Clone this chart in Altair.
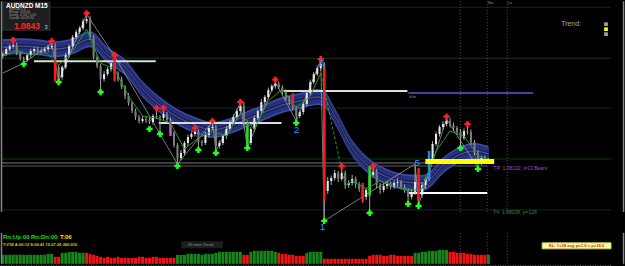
import altair as alt
import pandas as pd

# ---------------- data (prices in points = price * 1e5) ----------------
close_pts = [108858,108878,108890,108894,108862,108842,108834,108854,108870,108878,
             108866,108870,108878,108886,108890,108806,108766,108806,108854,108890,
             108926,108946,108962,108990,108998,108926,108846,108810,108758,108778,
             108798,108822,108782,108758,108726,108690,108662,108630,108606,108590,
             108598,108594,108586,108610,108606,108602,108618,108594,108542,108494,
             108442,108462,108502,108526,108538,108546,108506,108502,108534,108562,
             108566,108490,108502,108530,108558,108586,108606,108630,108650,108582,
             108502,108558,108602,108630,108666,108686,108714,108730,108738,108726,
             108706,108682,108666,108642,108610,108626,108658,108702,108746,108778,
             108802,108818,108310,108350,108362,108382,108358,108382,108334,108342,
             108358,108338,108318,108286,108314,108374,108386,108334,108314,108330,
             108338,108326,108342,108346,108326,108314,108286,108306,108346,108294,
             108334,108358,108430,108498,108538,108566,108578,108590,108574,108562,
             108546,108522,108550,108546,108506,108462,108426,108442,108430,108434]
upper_wick = [10,8,8,8,10,8,6,8,10,8, 8,10,8,8,8,12,8,8,10,8, 8,10,8,10,16,12,8,10,8,12,
              8,10,24,8,10,8,12,8,10,8, 12,8,10,8,20,8,12,8,10,8, 8,12,8,10,8,8,10,8,12,8,
              16,8,10,8,12,8,10,8,8,16, 10,8,10,8,12,8,10,8,8,10, 8,12,8,10,8,8,12,8,10,8,
              10,12,8,16,10,12,8,20,10,12, 16,10,8,12,10,8,16,12,8,10, 12,8,10,16,8,10,8,12,64,10,
              12,8,10,12,10,8,12,8,12,10, 8,12,10,20,10,8,12,8,10,8]
lower_wick = [10,8,8,10,8,10,8,8,10,8, 10,8,8,10,8,12,12,10,8,8, 10,8,8,8,10,12,10,8,40,10,
              8,10,12,10,8,12,10,8,12,10, 8,12,8,10,8,52,10,8,12,10, 20,10,8,12,8,10,24,12,8,10,
              8,20,10,8,12,8,10,8,8,12, 12,8,10,8,8,10,8,8,10,8, 10,8,12,10,16,8,10,8,12,8,
              8,10,108,12,16,10,12,8,16,12, 10,16,12,24,12,84,10,12,16,10, 12,10,8,16,10,12,20,10,12,36,
              12,16,10,12,8,10,12,8,10,12, 10,32,8,10,12,10,20,12,10,8]
FIRST_OPEN = 108850

band_bar = [0,5,10,15,20,25,30,35,40,45,50,55,60,65,70,75,80,85,90,92,95,100,105,110,115,120,123,125,130,135,139]
band_mid = [108886,108890,108886,108878,108890,108918,108854,108806,108718,108654,
            108606,108574,108554,108570,108598,108626,108654,108670,108686,108678,
            108610,108482,108406,108366,108346,108342,108366,108398,108450,108470,108458]

fast_bar = [0,4,8,12,16,20,24,28,32,36,40,44,48,52,56,60,64,68,72,76,80,84,88,91,98,100,104,108,112,116,120,124,128,132,136,139]
fast_pts = [108850,108874,108854,108870,108814,108870,108958,108822,108798,108690,
            108610,108602,108582,108478,108522,108550,108530,108622,108558,108670,
            108718,108642,108690,108782,108330,108350,108318,108350,108330,108310,
            108318,108470,108550,108530,108450,108438]

zz_bar = [0,6,14,16,24,32,50,60,61,68,70,78,84,91,92,118,119,127,136]
zz_pts = [108782,108822,108902,108750,109018,108850,108418,108586,108470,108662,
          108486,108746,108590,108834,108190,108418,108254,108598,108402]

sig_bar = [15,32,48,70,83,92,103,105,119,122]
sig_top = [108838,108850,108582,108570,108702,108798,108342,108410,108402,108470]
sig_bot = [108750,108750,108530,108478,108650,108270,108270,108290,108270,108358]
sig_col = ['#ff1a1a','#ff1a1a','#e040e0','#22dd22','#ff1a1a','#ff1a1a','#ff1a1a','#22dd22','#ff1a1a','#2a86ff']

rc_bar = [3,14,24,32,44,46,55,60,68,78,91,97,106,127,133]
rc_pts = [108914,108910,109022,108854,108642,108642,108562,108590,108666,108756,108838,108410,108410,108608,108578]
gc_bar = [6,16,28,42,45,50,56,61,70,84,92,105,116,119,131,136]
gc_pts = [108818,108746,108706,108558,108538,108410,108474,108462,108482,108582,108190,108222,108258,108250,108482,108398]

wave_text = ["3", "2", "1", "5"]
wave_x = [91.7, 84.6, 92.0, 119.1]
wave_pts = [108822, 108554, 108166, 108422]

lvl_x0 = [9.43, 45.14, 80.86, 116.57, 116.57]
lvl_x1 = [44.29, 80.29, 116.29, 152.29, 139.14]
lvl_pts = [108830, 108582, 108710, 108702, 108302]
lvl_col = ['#dcdcdc', '#dcdcdc', '#dcdcdc', '#5a5ad8', '#ffffff']

grid_pts = [109046, 108842, 108642, 108438, 108234]
grid_col = ['#1a2236', '#0d3d0d', '#1a2236', '#0d3d0d', '#1a2236']
gray_pts = [108422, 108410]

yellow_x = [121.43, 141.14]
yellow_pts = [108438, 108418]

hist_vals = ([9]*13 + [10, 10] + [-7, -7] + [11, 11, 12, 12, 12, 11, 11] + [-11, -10, -9, -8, -7]
             + [-6, -7, -6, -6, -7, -6, -6, -6, -6, -6, -7, -7, -6, -6, -7, -7, -6, -6, -6, -6, -6]
             + [9, 9, 9, 10, 10, 10, 10, 9, 10, 10, 10, 11, 12, 12, 12, 12, 12, 12, 12]
             + [-9, -9] + [12, 13, 13, 13, 13, 13, 13, 12] + [-11, -10, -10, -9, -9, -8, -8, -8]
             + [11, 12, 12, 12, 12] + [-5]*13
             + [-8, -9, -9, -9, -8, -8, -9, -9, -8, -8, -8, -8, -8]
             + [11, 11, 12, 12, 13, 13, 13, 14, 14, 14]
             + [-12, -12, -11, -11, -11, -10, -10, -9, -9, -9, -9] + [9])

osc_red = [59,76,82,35,47,65,59,53,71,82,29,24,71,59,53,59,82,65,24,41,59,76,88,82,76,29,6,6,12,53,
           47,18,35,65,76,65,41,24,65,65,47,18,35,65,82,82,29,12,18,18,29,47,35,35,47,59,24,47,65,35,
           53,59,71,82,65,29,41,53,18,18]
osc_teal = [65,70,76,47,41,59,62,50,65,76,41,29,59,65,50,56,76,71,35,35,53,71,82,85,79,41,12,6,12,41,
            50,24,29,59,71,71,47,29,53,65,53,24,29,59,76,85,41,18,18,18,24,41,41,35,41,53,29,41,59,41,
            47,56,65,76,71,35,41,50,24,18]
osc_levels = [100, 70, 20]

strip_bar = [0,15,30,45,60,75,85,92,100,108,115,125,139]
strip_val = [55,60,45,25,10,0,45,95,60,10,0,15,20]

# ---------------- helpers ----------------
FONT = "Liberation Sans"
XMAX = 625 / 3.5
GRID_END = 174.57
xs = alt.Scale(domain=[0, XMAX], nice=False, zero=False)
ys = alt.Scale(domain=[1.08226, 1.09070], nice=False, zero=False)


def X(f):
    return alt.X(f, type="quantitative", scale=xs, axis=None)


def Y(f, scale=ys):
    return alt.Y(f, type="quantitative", scale=scale, axis=None)


P = lambda v: v / 1e5

# candles
rows = []
prev = FIRST_OPEN
for i, c in enumerate(close_pts):
    o = prev
    hi = max(o, c) + upper_wick[i]
    lo = min(o, c) - lower_wick[i]
    cc = c if c != o else c + 2
    rows.append(dict(xc=i + 0.5, x0=i + 0.2, x1=i + 0.8, o=P(o), c=P(cc), h=P(hi), l=P(lo), up=bool(c >= o)))
    prev = c
candles = pd.DataFrame(rows)

BAND_OUT, BAND_IN, BAND_CORE = 32, 25, 6
band = pd.DataFrame({
    "x": [b + 0.5 for b in band_bar],
    "o_hi": [P(m + BAND_OUT) for m in band_mid], "o_lo": [P(m - BAND_OUT) for m in band_mid],
    "i_hi": [P(m + BAND_IN) for m in band_mid], "i_lo": [P(m - BAND_IN) for m in band_mid],
    "c_hi": [P(m + BAND_CORE) for m in band_mid], "c_lo": [P(m - BAND_CORE) for m in band_mid],
    "mid": [P(m) for m in band_mid],
})

frows = []
for b, v in zip(fast_bar, fast_pts):
    if b <= 91:
        frows.append(dict(x=b + 0.5, y=P(v), seg="a"))
    if 91 <= b <= 98:
        frows.append(dict(x=b + 0.5, y=P(v), seg="b"))
    if b >= 98:
        frows.append(dict(x=b + 0.5, y=P(v), seg="c"))
fast = pd.DataFrame(frows)

zz = pd.DataFrame({"x": [b + 0.5 for b in zz_bar], "y": [P(v) for v in zz_pts]})
sig = pd.DataFrame({"x0": [b + 0.15 for b in sig_bar], "x1": [b + 0.85 for b in sig_bar],
                    "t": [P(v) for v in sig_top], "b": [P(v) for v in sig_bot], "col": sig_col})
rc = pd.DataFrame({"x": [b + 0.5 for b in rc_bar], "y": [P(v) for v in rc_pts]})
gc = pd.DataFrame({"x": [b + 0.5 for b in gc_bar], "y": [P(v) for v in gc_pts]})
waves = pd.DataFrame({"x": wave_x, "y": [P(v) for v in wave_pts], "t": wave_text})
lv = pd.DataFrame({"x0": lvl_x0, "x1": lvl_x1, "y": [P(v) for v in lvl_pts], "col": lvl_col,
                   "w": [2, 2, 2, 1.5, 2]})
grid = pd.DataFrame({"x0": [0] * 5, "x1": [GRID_END] * 5, "y": [P(v) for v in grid_pts], "col": grid_col})
grays = pd.DataFrame({"x0": [0, 0], "x1": [139.14, 139.14], "y": [P(v) for v in gray_pts],
                      "col": ["#7a7a7a", "#5c5c5c"]})
yellow = pd.DataFrame({"x0": [yellow_x[0]], "x1": [yellow_x[1]], "t": [P(yellow_pts[0])], "b": [P(yellow_pts[1])]})
vlines = pd.DataFrame({"x": [131.43, 139.14, 144.86]})
borders = pd.DataFrame({"x": [0.15, 178.15]})
infobox = pd.DataFrame({"x0": [0.57], "x1": [14.0], "t": [P(109066)], "b": [P(108954)]})
trend_dots = pd.DataFrame({"x": [173.14] * 3, "y": [P(108978), P(108958), P(108938)],
                           "col": ["#a0a0a0", "#ffff00", "#a0a0a0"]})

main_texts = pd.DataFrame([
    dict(x=1.43, y=P(109052), t="AUDNZD   M15", col="#ffffff", fs=6.5, bold=True),
    dict(x=2.3, y=P(109037), t="Spread        2.6", col="#9a9a9a", fs=3.4, bold=False),
    dict(x=2.3, y=P(109025), t="Range        159.40", col="#9a9a9a", fs=3.4, bold=False),
    dict(x=2.3, y=P(109013), t="Swing     -0.18 / 1.05", col="#9a9a9a", fs=3.4, bold=False),
    dict(x=2.3, y=P(109001), t="Candle     00:09:34", col="#9a9a9a", fs=3.4, bold=False),
    dict(x=3.71, y=P(108972), t="1.0843", col="#ff2424", fs=8.5, bold=True),
    dict(x=12.5, y=P(108968), t="3", col="#d8d8d8", fs=5, bold=False),
    dict(x=160.3, y=P(108978), t="Trend:", col="#a8a8a8", fs=7, bold=False),
    dict(x=139.4, y=P(109062), t="Nw", col="#a0a040", fs=3.5, bold=False),
    dict(x=145.1, y=P(109062), t="Lo", col="#a0a040", fs=3.5, bold=False),
    dict(x=116.9, y=P(108686), t="b1m", col="#8888cc", fs=3.5, bold=False),
    dict(x=140.9, y=P(108402), t="TP: 1.08132, l=13 Bears", col="#b040d0", fs=5, bold=False),
    dict(x=140.9, y=P(108224), t="Th: 1.08038, p=128", col="#2a902a", fs=5, bold=False),
])


def text_layer(df, yscale, bold):
    return alt.Chart(df[df["bold"] == bold]).mark_text(
        align="left", baseline="middle", font=FONT, fontWeight="bold" if bold else "normal"
    ).encode(x=X("x"), y=Y("y", yscale), text="t:N",
             color=alt.Color("col:N", scale=None), size=alt.Size("fs:Q", scale=None))


layers = [
    alt.Chart(grid).mark_rule(strokeWidth=1).encode(x=X("x0"), x2="x1", y=Y("y"), color=alt.Color("col:N", scale=None)),
    alt.Chart(grays).mark_rule(strokeWidth=1).encode(x=X("x0"), x2="x1", y=Y("y"), color=alt.Color("col:N", scale=None)),
    alt.Chart(vlines).mark_rule(strokeWidth=1, strokeDash=[1, 2], color="#555555").encode(x=X("x")),
    alt.Chart(band).mark_area(interpolate="monotone", color="#3d49a3").encode(x=X("x"), y=Y("o_lo"), y2="o_hi"),
    alt.Chart(band).mark_area(interpolate="monotone", color="#27307c").encode(x=X("x"), y=Y("i_lo"), y2="i_hi"),
    alt.Chart(band).mark_line(interpolate="monotone", color="#151a44", strokeWidth=1).encode(x=X("x"), y=Y("c_hi")),
    alt.Chart(band).mark_line(interpolate="monotone", color="#151a44", strokeWidth=1).encode(x=X("x"), y=Y("c_lo")),
    alt.Chart(band).mark_line(interpolate="monotone", color="#6a6a8e", strokeWidth=0.6).encode(x=X("x"), y=Y("mid")),
    alt.Chart(zz).mark_line(color="#9a9a9a", strokeWidth=0.8).encode(x=X("x"), y=Y("y")),
    alt.Chart(lv).mark_rule().encode(x=X("x0"), x2="x1", y=Y("y"), color=alt.Color("col:N", scale=None),
                                     strokeWidth=alt.StrokeWidth("w:Q", scale=None)),
    alt.Chart(candles).mark_rule(color="#a8a8a8", strokeWidth=1).encode(x=X("xc"), y=Y("l"), y2="h"),
    alt.Chart(candles).mark_rect().encode(
        x=X("x0"), x2="x1", y=Y("o"), y2="c",
        color=alt.condition("datum.up", alt.value("#e6e6e6"), alt.value("#7c7c7c"))),
    alt.Chart(sig).mark_rect().encode(x=X("x0"), x2="x1", y=Y("b"), y2="t", color=alt.Color("col:N", scale=None)),
    alt.Chart(fast[fast.seg != "b"]).mark_line(color="#1ca01c", strokeWidth=1).encode(x=X("x"), y=Y("y"), detail="seg:N"),
    alt.Chart(fast[fast.seg == "b"]).mark_line(color="#1ca01c", strokeWidth=1, strokeDash=[3, 2]).encode(x=X("x"), y=Y("y")),
    alt.Chart(yellow).mark_rect(color="#ffff00").encode(x=X("x0"), x2="x1", y=Y("b"), y2="t"),
    alt.Chart(rc).mark_point(shape="cross", filled=True, size=38, color="#ff2020", opacity=1).encode(x=X("x"), y=Y("y")),
    alt.Chart(gc).mark_point(shape="cross", filled=True, size=38, color="#22ff22", opacity=1).encode(x=X("x"), y=Y("y")),
    alt.Chart(waves).mark_text(font=FONT, fontSize=10, color="#3a8cff", align="center", baseline="middle").encode(
        x=X("x"), y=Y("y"), text="t:N"),
    alt.Chart(infobox).mark_rect(color="#1f1f1f", stroke="#333333").encode(x=X("x0"), x2="x1", y=Y("b"), y2="t"),
    text_layer(main_texts, ys, True),
    text_layer(main_texts, ys, False),
    alt.Chart(trend_dots).mark_point(shape="square", filled=True, size=14, opacity=1).encode(
        x=X("x"), y=Y("y"), color=alt.Color("col:N", scale=None)),
    alt.Chart(borders).mark_rule(color="#858585", strokeWidth=1.5).encode(x=X("x")),
]
main = alt.layer(*layers).properties(width=625, height=211)

# ---------------- histogram sub-window ----------------
hs = alt.Scale(domain=[0, 31], nice=False, zero=False)
hist = pd.DataFrame({"x0": [i + 0.08 for i in range(len(hist_vals))],
                     "x1": [i + 0.92 for i in range(len(hist_vals))],
                     "z": [0] * len(hist_vals),
                     "v": [abs(v) for v in hist_vals],
                     "col": ["#17861a" if v > 0 else "#ee1414" for v in hist_vals]})
hist_texts = pd.DataFrame([
    dict(x=0.57, y=27, t="Rn:Up:00", col="#22dd22", fs=6, bold=True),
    dict(x=8.57, y=27, t="Rn:Dn:00", col="#22dd22", fs=6, bold=True),
    dict(x=16.86, y=27, t="T:06", col="#e8e800", fs=6, bold=True),
    dict(x=0.57, y=18.5, t="T:V1E  A:00:12  S:00:41  15:07:26  200:010", col="#d8d800", fs=4, bold=True),
    dict(x=53.5, y=19, t="30 mins Trend", col="#909090", fs=4, bold=False),
])
boxes = pd.DataFrame({"x0": [51.7, 154.86], "x1": [63.4, 174.57], "b": [16, 15], "t": [22, 21],
                      "col": ["#1e1e1e", "#ffffa0"], "st": ["#1e1e1e", "#c8c870"]})
kl = pd.DataFrame({"x": [164.7], "y": [18], "t": ["KL: 1s18 avg p=1.0 s p=18.0"]})

hist_chart = alt.layer(
    alt.Chart(vlines).mark_rule(strokeWidth=1, strokeDash=[1, 2], color="#555555").encode(x=X("x")),
    alt.Chart(hist).mark_rect().encode(x=X("x0"), x2="x1", y=Y("z", hs), y2="v", color=alt.Color("col:N", scale=None)),
    alt.Chart(boxes).mark_rect().encode(x=X("x0"), x2="x1", y=Y("b", hs), y2="t",
                                        color=alt.Color("col:N", scale=None), stroke=alt.Stroke("st:N", scale=None)),
    text_layer(hist_texts, hs, True),
    text_layer(hist_texts, hs, False),
    alt.Chart(kl).mark_text(font=FONT, fontSize=4.2, color="#e02020", fontWeight="bold").encode(
        x=X("x"), y=Y("y", hs), text="t:N"),
    alt.Chart(borders).mark_rule(color="#858585", strokeWidth=1.5).encode(x=X("x")),
).properties(width=625, height=31)

# ---------------- oscillator sub-window ----------------
os_ = alt.Scale(domain=[0, 100], nice=False, zero=False)
osc = pd.DataFrame({"x": [2 * k + 0.5 for k in range(len(osc_red))], "r": osc_red, "tl": osc_teal})
olev = pd.DataFrame({"x0": [0] * 3, "x1": [GRID_END] * 3, "y": osc_levels})
osc_chart = alt.layer(
    alt.Chart(olev).mark_rule(color="#7a7a7a", strokeWidth=1, strokeDash=[1, 1.5]).encode(x=X("x0"), x2="x1", y=Y("y", os_)),
    alt.Chart(osc).mark_line(color="#1e8e8e", strokeWidth=1).encode(x=X("x"), y=Y("tl", os_)),
    alt.Chart(osc).mark_line(color="#c42222", strokeWidth=1).encode(x=X("x"), y=Y("r", os_)),
    alt.Chart(borders).mark_rule(color="#858585", strokeWidth=1.5).encode(x=X("x")),
).properties(width=625, height=17)

# ---------------- bottom strip ----------------
ss = alt.Scale(domain=[0, 100], nice=False, zero=False)
strip = pd.DataFrame({"x0": [i + 0.1 for i in range(len(close_pts))],
                      "x1": [i + 0.9 for i in range(len(close_pts))],
                      "z": [0] * len(close_pts), "t": [100] * len(close_pts),
                      "up": candles["up"].tolist()})
scurve = pd.DataFrame({"x": [b + 0.5 for b in strip_bar], "y": strip_val})
strip_chart = alt.layer(
    alt.Chart(strip).mark_rect().encode(
        x=X("x0"), x2="x1", y=Y("z", ss), y2="t",
        color=alt.condition("datum.up", alt.value("#e2e2e2"), alt.value("#8e8e8e"))),
    alt.Chart(scurve).mark_line(color="#e02020", strokeWidth=1, interpolate="monotone").encode(x=X("x"), y=Y("y", ss)),
    alt.Chart(borders).mark_rule(color="#858585", strokeWidth=1.5).encode(x=X("x")),
).properties(width=625, height=7)

chart = alt.vconcat(main, hist_chart, osc_chart, strip_chart, spacing=0).properties(
    padding=0, background="#000000"
).configure_view(strokeWidth=0).configure_concat(spacing=0)

chart.save("out.html", embed_options={"renderer": "svg", "actions": False})
